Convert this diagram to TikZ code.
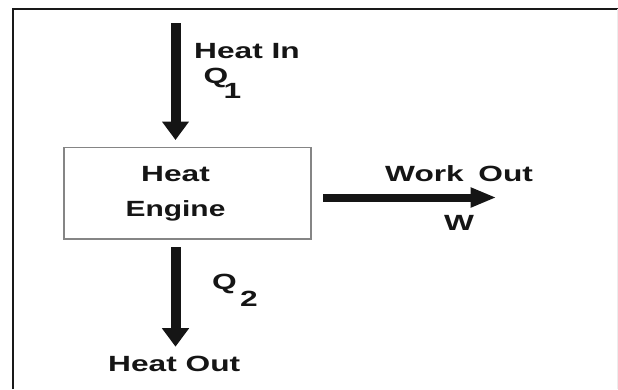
\documentclass[tikz,border=0pt]{standalone}
\usepackage{fontspec}
\setmainfont{Liberation Sans}
\usetikzlibrary{arrows.meta}
\newcommand{\widetxt}[2][1.44]{\scalebox{#1}[1]{#2}}
\definecolor{ink}{HTML}{151515}
\definecolor{boxgray}{HTML}{858585}
\begin{document}
\begin{tikzpicture}[x=1pt,y=-1pt,
  txt/.style={anchor=base west, inner sep=0pt, text=ink, font=\bfseries\fontsize{22}{26}\selectfont},
  ctxt/.style={txt, anchor=base},
  enginebox/.style={draw=boxgray, line width=1.3pt, inner sep=0pt, minimum width=247pt, minimum height=91.5pt},
  bigarrow/.style={draw=ink, line width=10pt, -{Triangle[length=18.5pt,width=26pt]}},
  workarrow/.style={draw=ink, line width=8pt, -{Triangle[length=26pt,width=18.5pt]}},
  frame/.style={draw=black!90, line width=2.3pt}
]
\useasboundingbox (0,0) rectangle (618,389);
% frame
\draw[frame] (12.8,389) -- (12.8,9.2) -- (618,9.2);
\draw[black!7, line width=1pt] (617.5,9.2) -- (617.5,389);

% engine box
\node[enginebox] (engine) at (187.6,193.2) {};
\node[ctxt] (lheat) at (175.5,181.7) {\widetxt{Heat}};
\node[ctxt] (lengine) at (175.5,216.7) {\widetxt[1.36]{Engine}};

% heat in
\coordinate (qin) at (175.5,23.3);
\node[txt] (heatin) at (194,58) {\widetxt{Heat In}};
\node[txt] (q1) at (203.5,83.5) {\widetxt{Q}};
\node[txt] (sub1) at (223.5,98.3) {\widetxt{1}};
\draw[bigarrow, shorten >=6.8pt] (qin) -- (qin |- engine.north);

% heat out
\coordinate (qout) at (175.5,346.7);
\node[txt] (q2) at (212,289.5) {\widetxt{Q}};
\node[txt] (sub2) at (240,306.5) {\widetxt{2}};
\node[txt] (heatout) at (108,371.7) {\widetxt{Heat Out}};
\draw[bigarrow, shorten <=7.7pt] (qout |- engine.south) -- (qout);

% work out
\coordinate (wend) at (496.5,197.5);
\node[txt] (workout) at (385,181.7) {\widetxt{Work\hspace{4pt} Out}};
\node[txt] (w) at (444,230.7) {\widetxt{W}};
\draw[workarrow, shorten <=11.3pt] (engine.east |- wend) -- (wend);
\end{tikzpicture}
\end{document}
